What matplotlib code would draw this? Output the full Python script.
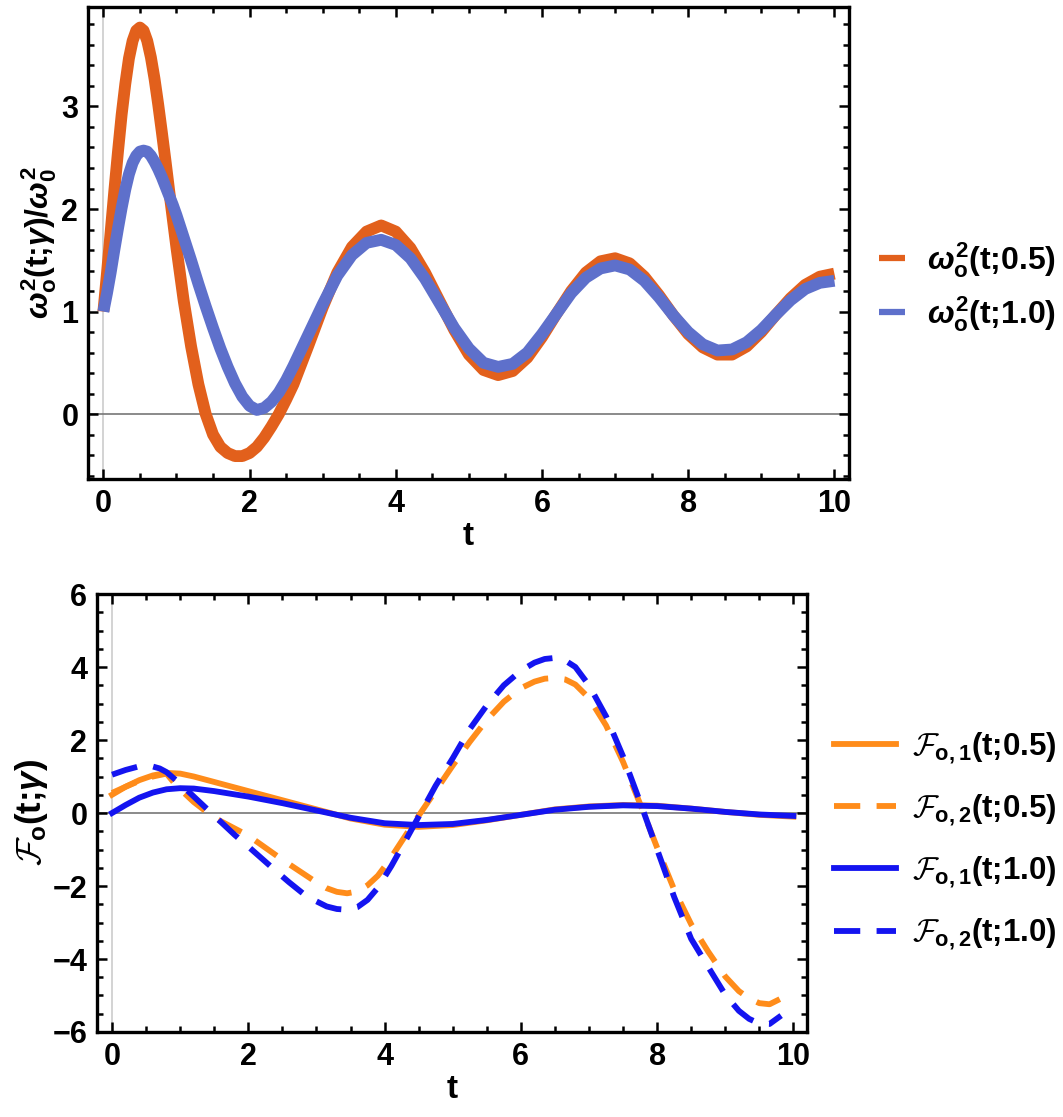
import numpy as np
import matplotlib
matplotlib.use('Agg')
from matplotlib import pyplot as plt
from matplotlib.ticker import MultipleLocator

plt.rcParams['font.family'] = ['Liberation Sans', 'DejaVu Sans']
plt.rcParams['font.weight'] = 'bold'
plt.rcParams['mathtext.fontset'] = 'custom'
plt.rcParams['mathtext.rm'] = 'Liberation Sans:bold'
plt.rcParams['mathtext.it'] = 'Liberation Sans:italic:bold'
plt.rcParams['mathtext.bf'] = 'Liberation Sans:bold'
plt.rcParams['mathtext.cal'] = 'cmsy10'

# top panel: omega^2(t;gamma)/omega0^2
t_top = [0, 0.05, 0.1, 0.15, 0.2, 0.25, 0.3, 0.35, 0.4, 0.45, 0.5, 0.55, 0.6, 0.65,
         0.7, 0.75, 0.8, 0.85, 0.9, 0.95, 1.0,
         1.1, 1.2, 1.3, 1.4, 1.5, 1.6, 1.7, 1.8, 1.9, 2.0, 2.1, 2.2, 2.3, 2.4, 2.5, 2.6,
         2.8, 3.0, 3.2, 3.4, 3.6, 3.8, 4.0, 4.2, 4.4, 4.6, 4.8, 5.0, 5.2, 5.4, 5.6, 5.8,
         6.0, 6.2, 6.4, 6.6, 6.8, 7.0, 7.2, 7.4, 7.6, 7.8, 8.0, 8.2, 8.4, 8.6, 8.8, 9.0,
         9.2, 9.4, 9.6, 9.8, 10.0]
w_05 = [1.00, 1.38, 1.78, 2.18, 2.56, 2.92, 3.22, 3.47, 3.64, 3.74, 3.77, 3.74, 3.64,
        3.48, 3.27, 3.02, 2.75, 2.47, 2.18, 1.90, 1.62,
        1.10, 0.66, 0.29, 0.00, -0.20, -0.32, -0.38, -0.41, -0.41, -0.38, -0.32, -0.23,
        -0.12, 0.00, 0.14, 0.29,
        0.66, 1.04, 1.38, 1.63, 1.78, 1.84, 1.78, 1.62, 1.38, 1.10, 0.82, 0.58, 0.43,
        0.38, 0.42, 0.55, 0.75, 0.98, 1.20, 1.38, 1.49, 1.52, 1.47, 1.34, 1.16, 0.96,
        0.78, 0.65, 0.58, 0.58, 0.66, 0.80, 0.97, 1.13, 1.26, 1.34, 1.37]
w_10 = [1.00, 1.18, 1.38, 1.60, 1.81, 2.01, 2.19, 2.34, 2.45, 2.52, 2.56, 2.57, 2.56,
        2.52, 2.46, 2.39, 2.31, 2.22, 2.13, 2.04, 1.94,
        1.72, 1.50, 1.27, 1.05, 0.84, 0.64, 0.46, 0.30, 0.17, 0.08, 0.04, 0.06, 0.12,
        0.21, 0.33, 0.47,
        0.77, 1.07, 1.35, 1.55, 1.67, 1.70, 1.65, 1.52, 1.32, 1.08, 0.84, 0.64, 0.50,
        0.46, 0.49, 0.60, 0.78, 0.98, 1.18, 1.33, 1.42, 1.45, 1.41, 1.30, 1.14, 0.96,
        0.80, 0.68, 0.62, 0.63, 0.70, 0.82, 0.97, 1.11, 1.22, 1.28, 1.30]

# bottom panel: F_o(t;gamma)
t_f1 = [0, 0.2, 0.4, 0.6, 0.8, 1.0, 1.2, 1.5, 2.0, 2.5, 3.0, 3.5, 4.0, 4.5, 5.0, 5.5,
        6.0, 6.5, 7.0, 7.5, 8.0, 8.5, 9.0, 9.5, 10.0]
f1_05 = [0.50, 0.72, 0.90, 1.03, 1.10, 1.08, 1.00, 0.85, 0.60, 0.35, 0.10, -0.15, -0.32,
         -0.38, -0.33, -0.20, -0.05, 0.10, 0.18, 0.22, 0.20, 0.12, 0.03, -0.05, -0.10]
f1_10 = [0.00, 0.22, 0.42, 0.56, 0.65, 0.68, 0.67, 0.60, 0.45, 0.27, 0.07, -0.13, -0.28,
         -0.33, -0.30, -0.19, -0.05, 0.09, 0.17, 0.21, 0.19, 0.12, 0.03, -0.04, -0.08]

t_f2_05 = [0, 0.2, 0.4, 0.6, 0.8, 0.9, 1.0, 1.2, 1.5, 2.0, 2.5, 3.0, 3.15, 3.3, 3.45,
           3.6, 3.75, 3.9, 4.05, 4.2, 4.4, 4.6, 4.8, 5.0, 5.25, 5.5, 5.75, 6.0, 6.2,
           6.35, 6.5, 6.65, 6.8, 7.0, 7.25, 7.5, 7.75, 8.0, 8.25, 8.5, 8.75, 9.0, 9.2,
           9.35, 9.5, 9.65, 9.8]
f2_05 = [0.55, 0.72, 0.88, 1.00, 1.08, 0.85, 0.65, 0.30, -0.13, -0.62, -1.28, -1.90,
         -2.06, -2.16, -2.20, -2.15, -1.98, -1.72, -1.35, -0.92, -0.35, 0.20, 0.75,
         1.30, 1.95, 2.55, 3.05, 3.42, 3.60, 3.68, 3.70, 3.66, 3.52, 3.15, 2.40, 1.40,
         0.25, -0.95, -2.10, -3.05, -3.80, -4.48, -4.88, -5.08, -5.21, -5.24, -5.10]
t_f2_10 = [0, 0.2, 0.4, 0.55, 0.7, 0.8, 1.0, 1.2, 1.4, 1.6, 1.8, 2.0, 2.2, 2.4, 2.6, 2.8,
           3.0, 3.15, 3.3, 3.45, 3.6, 3.75, 3.9, 4.1, 4.3, 4.5, 4.75, 5.0, 5.25, 5.5,
           5.75, 6.0, 6.2, 6.35, 6.5, 6.65, 6.8, 7.0, 7.25, 7.5, 7.75, 8.0, 8.25, 8.5,
           8.75, 9.0, 9.2, 9.35, 9.5, 9.65, 9.82]
f2_10 = [1.05, 1.18, 1.28, 1.30, 1.22, 1.12, 0.80, 0.45, 0.10, -0.25, -0.60, -0.92,
         -1.25, -1.58, -1.90, -2.20, -2.42, -2.56, -2.63, -2.65, -2.58, -2.38, -2.05,
         -1.45, -0.78, -0.10, 0.75, 1.50, 2.30, 2.95, 3.50, 3.90, 4.12, 4.22, 4.25,
         4.18, 4.00, 3.50, 2.65, 1.55, 0.30, -1.00, -2.30, -3.45, -4.22, -4.98, -5.42,
         -5.64, -5.77, -5.78, -5.55]

fig = plt.figure(figsize=(10.63, 11.17), dpi=100)
ax1 = fig.add_axes([0.0828, 0.5712, 0.7159, 0.4225])
ax2 = fig.add_axes([0.0913, 0.0761, 0.6679, 0.3921])

def style(ax):
    for sp in ax.spines.values():
        sp.set_linewidth(2.4)
    ax.tick_params(which='both', direction='in', top=True, right=True, width=1.8,
                   labelsize=22, pad=7)
    ax.tick_params(which='major', length=7)
    ax.tick_params(which='minor', length=4)
    ax.xaxis.set_major_locator(MultipleLocator(2))
    ax.xaxis.set_minor_locator(MultipleLocator(0.5))
    ax.axvline(0, color='#cccccc', lw=1.2, zorder=0)
    ax.axhline(0, color='#777777', lw=1.2, zorder=0)

c_or1 = '#E2601C'
c_bl1 = '#5E70CB'
ax1.plot(t_top, w_05, color=c_or1, lw=8.5, solid_capstyle='butt', solid_joinstyle='round',
         label=r'$\omega^2_{\mathrm{o}}$(t;0.5)')
ax1.plot(t_top, w_10, color=c_bl1, lw=8.5, solid_capstyle='butt', solid_joinstyle='round',
         label=r'$\omega^2_{\mathrm{o}}$(t;1.0)')
style(ax1)
ax1.set_xlim(-0.21, 10.2)
ax1.set_ylim(-0.633, 3.97)
ax1.yaxis.set_major_locator(MultipleLocator(1))
ax1.yaxis.set_minor_locator(MultipleLocator(0.2))
ax1.set_xlabel('t', fontsize=24, fontweight='bold', labelpad=2)
ax1.set_ylabel(r'$\omega^2_{\mathrm{o}}$(t;$\gamma$)/$\omega^2_{\mathrm{0}}$', fontsize=23,
               fontweight='bold', labelpad=2)
leg1 = ax1.legend(loc='center left', bbox_to_anchor=(0.80, 0.743),
                  bbox_transform=fig.transFigure, frameon=False, fontsize=23,
                  handlelength=0.8, handletextpad=0.7, labelspacing=0.45)
for ln in leg1.get_lines():
    ln.set_linewidth(4.5)

c_or2 = '#FF8C1A'
c_bl2 = '#1414F0'
kw = dict(lw=4.2, solid_joinstyle='round', dash_joinstyle='round')
ax2.plot(t_f1, f1_05, color=c_or2, label=r'$\mathcal{F}_{\mathrm{o,1}}$(t;0.5)', **kw)
ax2.plot(t_f2_05, f2_05, color=c_or2, dashes=(4.5, 2.8),
         label=r'$\mathcal{F}_{\mathrm{o,2}}$(t;0.5)', **kw)
ax2.plot(t_f1, f1_10, color=c_bl2, label=r'$\mathcal{F}_{\mathrm{o,1}}$(t;1.0)', **kw)
ax2.plot(t_f2_10, f2_10, color=c_bl2, dashes=(4.5, 2.8),
         label=r'$\mathcal{F}_{\mathrm{o,2}}$(t;1.0)', **kw)
style(ax2)
ax2.set_xlim(-0.22, 10.2)
ax2.set_ylim(-6, 6)
ax2.yaxis.set_major_locator(MultipleLocator(2))
ax2.yaxis.set_minor_locator(MultipleLocator(0.5))
ax2.set_xlabel('t', fontsize=24, fontweight='bold', labelpad=2)
ax2.set_ylabel(r'$\mathcal{F}_{\mathrm{o}}$(t;$\gamma$)', fontsize=25, fontweight='bold',
               labelpad=2)
leg2 = ax2.legend(loc='center left', bbox_to_anchor=(0.758, 0.247),
                  bbox_transform=fig.transFigure, frameon=False, fontsize=22.5,
                  handlelength=2.0, handletextpad=0.5, labelspacing=0.85)

fig.savefig('out.png', dpi=100)
